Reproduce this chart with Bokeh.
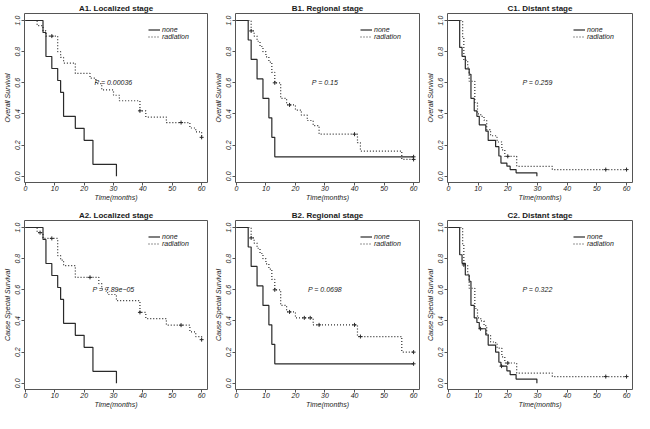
from bokeh.plotting import figure
from bokeh.layouts import gridplot
from bokeh.models import (FixedTicker, PrintfTickFormatter, Label, Legend,
                          LegendItem, Range1d)
from bokeh.embed import file_html
from bokeh.resources import INLINE

# ---------------- data ----------------
# Localized stage, no radiation (same in A1 and A2)
A_NONE_T = [0, 6, 7, 9, 11, 12, 13, 17, 20, 23, 31]
A_NONE_S = [1.0, 0.923, 0.769, 0.692, 0.615, 0.538, 0.385, 0.308, 0.231, 0.077, 0.0]
A_NONE_CT = []
A_NONE_CS = []

A1_RAD_T = [0, 4, 6, 7, 11, 12, 13, 17, 22, 24, 26, 30, 32, 39, 41, 48, 56, 58, 60]
A1_RAD_S = [1.0, 0.967, 0.933, 0.90, 0.80, 0.763, 0.727, 0.66, 0.63, 0.595, 0.555,
            0.52, 0.485, 0.42, 0.38, 0.345, 0.31, 0.285, 0.25]
A1_RAD_CT = [9, 39, 53, 60]
A1_RAD_CS = [0.90, 0.42, 0.345, 0.25]

A2_RAD_T = [0, 4, 6, 11, 12, 13, 17, 25, 26, 28, 31, 39, 41, 48, 56, 58, 60]
A2_RAD_S = [1.0, 0.967, 0.93, 0.82, 0.79, 0.755, 0.68, 0.64, 0.605, 0.57, 0.53,
            0.455, 0.415, 0.373, 0.33, 0.30, 0.28]
A2_RAD_CT = [5, 9, 22, 39, 53, 60]
A2_RAD_CS = [0.967, 0.93, 0.68, 0.455, 0.373, 0.28]

# Regional stage, no radiation (same in B1 and B2)
B_NONE_T = [0, 4, 5, 7, 9, 11, 12, 13, 60]
B_NONE_S = [1.0, 0.875, 0.75, 0.625, 0.5, 0.375, 0.25, 0.125, 0.125]
B_NONE_CT = [60]
B_NONE_CS = [0.125]

B1_RAD_T = [0, 5, 6, 7, 8, 9, 10, 11, 12, 13, 15, 17, 20, 22, 24, 26, 28, 41, 42, 56, 60]
B1_RAD_S = [1.0, 0.933, 0.90, 0.867, 0.833, 0.80, 0.767, 0.733, 0.667, 0.60, 0.50,
            0.458, 0.425, 0.392, 0.358, 0.325, 0.27, 0.216, 0.162, 0.108, 0.108]
B1_RAD_CT = [5, 13, 18, 40, 60]
B1_RAD_CS = [0.933, 0.60, 0.458, 0.27, 0.108]

B2_RAD_T = [0, 5, 6, 7, 8, 9, 10, 11, 12, 13, 15, 17, 20, 26, 41, 56, 60]
B2_RAD_S = [1.0, 0.933, 0.90, 0.867, 0.833, 0.80, 0.767, 0.733, 0.667, 0.60, 0.50,
            0.458, 0.42, 0.375, 0.30, 0.20, 0.20]
B2_RAD_CT = [5, 13, 18, 23, 25, 28, 40, 42, 60]
B2_RAD_CS = [0.933, 0.60, 0.458, 0.42, 0.42, 0.375, 0.375, 0.30, 0.20]

# Distant stage
C_NONE_T = [0, 3.8, 4.6, 5.7, 7.0, 7.6, 8.7, 9.6, 10.4, 12.6, 13.4, 15.9, 17.0,
            17.7, 19.7, 20.8, 22.8, 29.8]
C1_NONE_S = [1.0, 0.827, 0.77, 0.69, 0.655, 0.50, 0.42, 0.385, 0.33, 0.29, 0.23,
             0.19, 0.13, 0.085, 0.065, 0.043, 0.022, 0.0]
C1_NONE_CT = []
C1_NONE_CS = []
C2_NONE_S = [1.0, 0.825, 0.77, 0.695, 0.655, 0.50, 0.42, 0.39, 0.35, 0.31, 0.245,
             0.20, 0.135, 0.11, 0.08, 0.055, 0.027, 0.0]
C2_NONE_CT = [10.8, 17.9]
C2_NONE_CS = [0.35, 0.11]

C_RAD_T = [0, 4.8, 5.2, 6.5, 7.0, 8.9, 9.8, 10.9, 12.0, 12.9, 14.2, 15.9, 16.4,
           18.0, 19.0, 23.0, 35.0, 60]
C1_RAD_S = [1.0, 0.89, 0.745, 0.70, 0.61, 0.47, 0.40, 0.385, 0.36, 0.30, 0.26,
            0.25, 0.22, 0.17, 0.128, 0.064, 0.043, 0.043]
C1_RAD_CT = [20, 53, 60]
C1_RAD_CS = [0.128, 0.043, 0.043]
C2_RAD_S = [1.0, 0.89, 0.76, 0.70, 0.61, 0.48, 0.42, 0.40, 0.37, 0.31, 0.265,
            0.255, 0.225, 0.17, 0.13, 0.065, 0.043, 0.043]
C2_RAD_CT = [5.2, 20, 53, 60]
C2_RAD_CS = [0.76, 0.13, 0.043, 0.043]

X_TICKS = [0, 10, 20, 30, 40, 50, 60]
Y_TICKS = [0.0, 0.2, 0.4, 0.6, 0.8, 1.0]
SERIES = ["none", "radiation"]

# ---------------- style ----------------
FONT = "Liberation Sans"
LINE = "#2a2a2a"
FRAME = "#555555"
TEXT = "#1a1a1a"
P_X, P_Y = 30, 0.6


def panel(title, ylabel, nt, ns, nct, ncs, rt, rs, rct, rcs, ptext,
          w, h, bl, br, bt, bb):
    p = figure(width=w, height=h, output_backend="svg", toolbar_location=None,
               x_range=Range1d(-0.3, 62), y_range=Range1d(-0.04, 1.045),
               min_border_left=bl, min_border_right=br,
               min_border_top=bt, min_border_bottom=bb,
               background_fill_color="white", border_fill_color="white")
    p.title.text = title
    p.title.align = "center"
    p.title.text_font = FONT
    p.title.text_font_size = "8px"
    p.title.text_font_style = "bold"
    p.title.text_color = TEXT
    p.title.standoff = 2
    p.outline_line_color = FRAME
    p.outline_line_width = 1
    p.grid.visible = False

    for ax in (p.xaxis[0], p.yaxis[0]):
        ax.axis_line_color = None
        ax.major_tick_line_color = FRAME
        ax.major_tick_out = 3
        ax.major_tick_in = 0
        ax.minor_tick_line_color = None
        ax.major_label_text_font = FONT
        ax.major_label_text_font_size = "7px"
        ax.major_label_text_font_style = "italic"
        ax.major_label_text_color = TEXT
        ax.axis_label_text_font = FONT
        ax.axis_label_text_font_size = "7px"
        ax.axis_label_text_font_style = "italic"
        ax.axis_label_text_color = TEXT

    p.xaxis.major_label_standoff = 0
    p.xaxis.axis_label_standoff = 0
    p.yaxis.major_label_standoff = 1
    p.yaxis.axis_label_standoff = 2

    p.xaxis.ticker = FixedTicker(ticks=X_TICKS)
    p.yaxis.ticker = FixedTicker(ticks=Y_TICKS)
    p.yaxis.formatter = PrintfTickFormatter(format="%.1f")
    p.yaxis.major_label_orientation = "vertical"
    p.xaxis.axis_label = "Time(months)"
    p.yaxis.axis_label = ylabel

    r1 = p.step(nt, ns, mode="after", line_color=LINE, line_width=1.2)
    r2 = p.step(rt, rs, mode="after", line_color=LINE, line_width=1.2,
                line_dash="1 2")
    if nct:
        p.scatter(nct, ncs, marker="cross", size=4, line_color=LINE, line_width=1)
    if rct:
        p.scatter(rct, rcs, marker="cross", size=4, line_color=LINE, line_width=1)

    legend = Legend(items=[LegendItem(label=SERIES[0], renderers=[r1]),
                           LegendItem(label=SERIES[1], renderers=[r2])],
                    location="top_right", margin=13, padding=2, spacing=0,
                    label_height=7, glyph_height=7, glyph_width=12,
                    label_standoff=2, label_width=32,
                    label_text_font=FONT, label_text_font_size="7px",
                    label_text_font_style="italic", label_text_color=TEXT,
                    border_line_color=None, background_fill_alpha=0)
    p.add_layout(legend)

    p.add_layout(Label(x=P_X, y=P_Y, text=ptext, text_font=FONT,
                       text_font_size="7px", text_font_style="italic",
                       text_align="center", text_baseline="middle",
                       text_color=TEXT))
    return p


H1, H2 = 206, 207
a1 = panel("A1. Localized stage", "Overall Survival",
           A_NONE_T, A_NONE_S, A_NONE_CT, A_NONE_CS,
           A1_RAD_T, A1_RAD_S, A1_RAD_CT, A1_RAD_CS, "P = 0.00036",
           211, H1, 20, 4, 10, 24)
b1 = panel("B1. Regional stage", "Overall Survival",
           B_NONE_T, B_NONE_S, B_NONE_CT, B_NONE_CS,
           B1_RAD_T, B1_RAD_S, B1_RAD_CT, B1_RAD_CS, "P = 0.15",
           210, H1, 22, 2, 10, 24)
c1 = panel("C1. Distant stage", "Overall Survival",
           C_NONE_T, C1_NONE_S, C1_NONE_CT, C1_NONE_CS,
           C_RAD_T, C1_RAD_S, C1_RAD_CT, C1_RAD_CS, "P = 0.259",
           213, H1, 26, 2, 10, 24)
a2 = panel("A2. Localized stage", "Cause Special Survival",
           A_NONE_T, A_NONE_S, A_NONE_CT, A_NONE_CS,
           A2_RAD_T, A2_RAD_S, A2_RAD_CT, A2_RAD_CS, "P = 7.89e\u221205",
           211, H2, 20, 4, 14, 24)
b2 = panel("B2. Regional stage", "Cause Special Survival",
           B_NONE_T, B_NONE_S, B_NONE_CT, B_NONE_CS,
           B2_RAD_T, B2_RAD_S, B2_RAD_CT, B2_RAD_CS, "P = 0.0698",
           210, H2, 22, 2, 14, 24)
c2 = panel("C2. Distant stage", "Cause Special Survival",
           C_NONE_T, C2_NONE_S, C2_NONE_CT, C2_NONE_CS,
           C_RAD_T, C2_RAD_S, C2_RAD_CT, C2_RAD_CS, "P = 0.322",
           213, H2, 26, 2, 14, 24)

grid = gridplot([[a1, b1, c1], [a2, b2, c2]], toolbar_location=None)

open("out.html", "w").write(file_html(grid, INLINE))
